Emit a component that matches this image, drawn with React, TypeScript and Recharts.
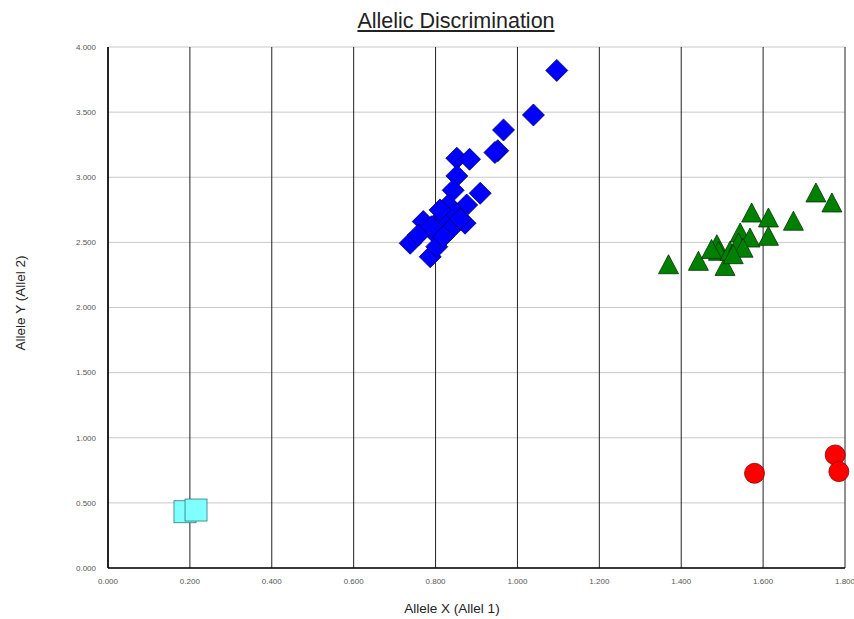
import {
  ScatterChart,
  Scatter,
  XAxis,
  YAxis,
  CartesianGrid,
} from "recharts";

document.body.style.margin = "0";

// Allele X / Allele Y readings per cluster
const blueX = [1.096, 1.039, 0.966, 0.952, 0.945, 0.852, 0.883, 0.852, 0.843, 0.909, 0.876, 0.831, 0.819, 0.872, 0.77, 0.795, 0.835, 0.738, 0.758, 0.787, 0.803, 0.819, 0.848, 0.811, 0.79, 0.86];
const blueY = [3.82, 3.478, 3.363, 3.204, 3.19, 3.146, 3.138, 3.01, 2.9, 2.877, 2.787, 2.787, 2.7, 2.647, 2.66, 2.58, 2.595, 2.493, 2.557, 2.39, 2.467, 2.544, 2.723, 2.749, 2.62, 2.68];

const greenX = [1.369, 1.442, 1.507, 1.487, 1.491, 1.519, 1.544, 1.54, 1.568, 1.572, 1.613, 1.613, 1.674, 1.729, 1.768, 1.474, 1.551, 1.527];
const greenY = [2.313, 2.339, 2.3, 2.467, 2.416, 2.416, 2.557, 2.48, 2.518, 2.71, 2.672, 2.531, 2.647, 2.864, 2.787, 2.43, 2.44, 2.39];

const redX = [1.579, 1.776, 1.785];
const redY = [0.727, 0.868, 0.74];

const cyanX = [0.188, 0.215];
const cyanY = [0.432, 0.445];

const xTicks = [0, 0.2, 0.4, 0.6, 0.8, 1.0, 1.2, 1.4, 1.6, 1.8];
const yTicks = [0, 0.5, 1.0, 1.5, 2.0, 2.5, 3.0, 3.5, 4.0];

const zip = (xs: number[], ys: number[]) => xs.map((x, i) => ({ x, y: ys[i] }));

const Diamond = (p: any) => {
  const { cx, cy } = p;
  const r = 11;
  return (
    <polygon
      points={`${cx},${cy - r} ${cx + r},${cy} ${cx},${cy + r} ${cx - r},${cy}`}
      fill="#0000ff"
      stroke="#000066"
      strokeWidth={0.8}
    />
  );
};

const Triangle = (p: any) => {
  const { cx, cy } = p;
  return (
    <polygon
      points={`${cx},${cy - 12} ${cx + 10},${cy + 7} ${cx - 10},${cy + 7}`}
      fill="#008000"
      stroke="#003300"
      strokeWidth={0.8}
    />
  );
};

const Dot = (p: any) => {
  const { cx, cy } = p;
  return <circle cx={cx} cy={cy} r={10} fill="#ff0000" stroke="#880000" strokeWidth={0.8} />;
};

const Square = (p: any) => {
  const { cx, cy } = p;
  const s = 22;
  return (
    <rect
      x={cx - s / 2}
      y={cy - s / 2}
      width={s}
      height={s}
      fill="#80ffff"
      stroke="#337777"
      strokeWidth={0.8}
    />
  );
};

const fmt = (v: number) => v.toFixed(3);
const tickStyle = { fontSize: 8, fill: "#555", fontFamily: "Liberation Sans, Arial" };

export default function App() {
  return (
    <div style={{ position: "relative", width: 854, height: 619, background: "#fff", fontFamily: "Liberation Sans, Arial" }}>
      <div
        style={{
          position: "absolute",
          top: 9,
          left: 0,
          width: 912,
          textAlign: "center",
          fontSize: 21.5,
          textDecoration: "underline",
          color: "#222",
        }}
      >
        Allelic Discrimination
      </div>
      <div
        style={{
          position: "absolute",
          top: 601,
          left: 0,
          width: 904,
          textAlign: "center",
          fontSize: 13.5,
          color: "#222",
        }}
      >
        Allele X (Allel 1)
      </div>
      <div
        style={{
          position: "absolute",
          left: 20,
          top: 303,
          transform: "translate(-50%, -50%) rotate(-90deg)",
          whiteSpace: "nowrap",
          fontSize: 13.5,
          color: "#222",
        }}
      >
        Allele Y (Allel 2)
      </div>
      <ScatterChart
        width={854}
        height={619}
        margin={{ top: 47, right: 9, bottom: 21, left: 48 }}
      >
        <CartesianGrid horizontal={true} vertical={false} stroke="#c8c8c8" />
        <CartesianGrid horizontal={false} vertical={true} stroke="#222" />
        <XAxis
          type="number"
          dataKey="x"
          domain={[0, 1.8]}
          ticks={xTicks}
          tickFormatter={fmt}
          tick={tickStyle}
          tickLine={false}
          axisLine={{ stroke: "#000", strokeWidth: 1.5 }}
          height={30}
          tickMargin={4}
          interval={0}
        />
        <YAxis
          type="number"
          dataKey="y"
          domain={[0, 4]}
          ticks={yTicks}
          tickFormatter={fmt}
          tick={tickStyle}
          tickLine={false}
          axisLine={{ stroke: "#000", strokeWidth: 1.5 }}
          width={60}
          tickMargin={6}
          interval={0}
        />
        <Scatter data={zip(cyanX, cyanY)} shape={Square} isAnimationActive={false} />
        <Scatter data={zip(blueX, blueY)} shape={Diamond} isAnimationActive={false} />
        <Scatter data={zip(greenX, greenY)} shape={Triangle} isAnimationActive={false} />
        <Scatter data={zip(redX, redY)} shape={Dot} isAnimationActive={false} />
      </ScatterChart>
    </div>
  );
}
